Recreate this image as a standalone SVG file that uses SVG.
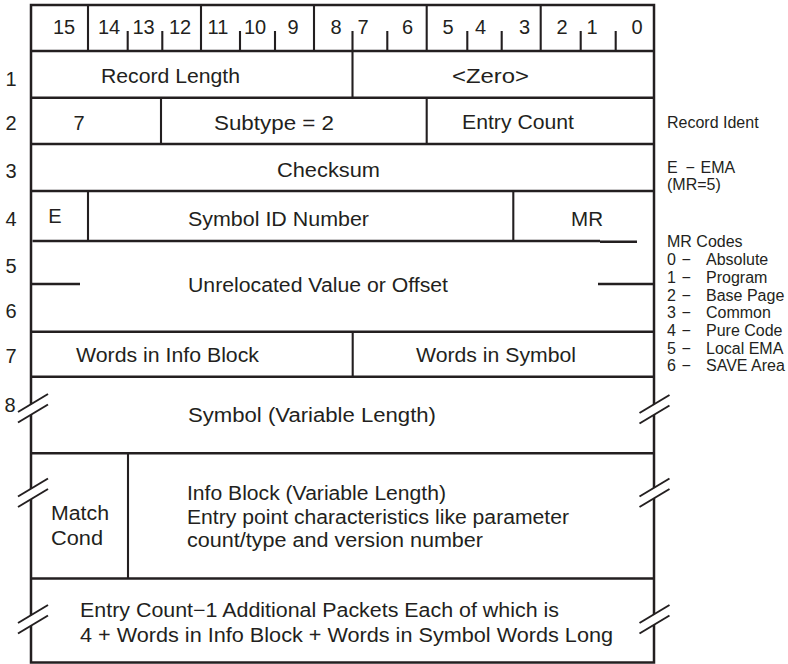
<svg xmlns="http://www.w3.org/2000/svg" xmlns:xlink="http://www.w3.org/1999/xlink" width="788" height="664" viewBox="0 0 788 664">
  <style>
    .ln { stroke: #231f20; stroke-width: 2.5; fill: none; stroke-linecap: butt; }
    .dv { stroke: #231f20; stroke-width: 2.1; fill: none; }
    .t { font-family: "Liberation Sans", Arial, Helvetica, sans-serif; font-size: 20px; fill: #231f20; }
    .c { text-anchor: middle; }
    .n { font-family: "Liberation Sans", Arial, Helvetica, sans-serif; font-size: 16px; fill: #231f20; }
  </style>
  <defs>
    <!-- break mark: two slashes with the frame erased between them -->
    <g id="brk">
      <polygon points="-15,4.5 15,-13.5 15,-3.5 -15,14.5" fill="#fff"/>
      <line x1="-15" y1="4" x2="15" y2="-14" stroke="#231f20" stroke-width="2"/>
      <line x1="-15" y1="14.5" x2="15" y2="-3.5" stroke="#231f20" stroke-width="2"/>
    </g>
  </defs>
  <rect width="788" height="664" fill="#fff"/>

  <!-- frame and row rules -->
  <g id="grid">
    <rect class="ln" x="31" y="5" width="623" height="657.5"/>
    <line class="ln" x1="31" y1="51" x2="654" y2="51"/>
    <line class="ln" x1="31" y1="97.7" x2="654" y2="97.7"/>
    <line class="ln" x1="31" y1="144" x2="654" y2="144"/>
    <line class="ln" x1="31" y1="191" x2="654" y2="191"/>
    <line class="ln" x1="32.5" y1="241" x2="600" y2="241"/>
    <line class="ln" x1="600" y1="241.8" x2="637" y2="241.8"/>
    <line class="ln" x1="31" y1="284" x2="80" y2="284"/>
    <line class="ln" x1="598" y1="284" x2="654" y2="284"/>
    <line class="ln" x1="31" y1="331.7" x2="654" y2="331.7"/>
    <line class="ln" x1="31" y1="376.7" x2="654" y2="376.7"/>
    <line class="ln" x1="31" y1="453.3" x2="654" y2="453.3"/>
    <line class="ln" x1="31" y1="578.5" x2="654" y2="578.5"/>

    <!-- header bit dividers and ticks -->
    <line class="dv" x1="88" y1="5" x2="88" y2="51"/>
    <line class="dv" x1="201" y1="5" x2="201" y2="51"/>
    <line class="dv" x1="314" y1="5" x2="314" y2="51"/>
    <line class="dv" x1="426.7" y1="5" x2="426.7" y2="51"/>
    <line class="dv" x1="540.7" y1="5" x2="540.7" y2="51"/>
    <line class="dv" x1="127.7" y1="31" x2="127.7" y2="51"/>
    <line class="dv" x1="162.3" y1="31" x2="162.3" y2="51"/>
    <line class="dv" x1="240" y1="31" x2="240" y2="51"/>
    <line class="dv" x1="275" y1="31" x2="275" y2="51"/>
    <line class="dv" x1="352.5" y1="31" x2="352.5" y2="97.7"/>
    <line class="dv" x1="387.3" y1="31" x2="387.3" y2="51"/>
    <line class="dv" x1="467.3" y1="31" x2="467.3" y2="51"/>
    <line class="dv" x1="501.7" y1="31" x2="501.7" y2="51"/>
    <line class="dv" x1="580.7" y1="31" x2="580.7" y2="51"/>
    <line class="dv" x1="615.7" y1="31" x2="615.7" y2="51"/>

    <!-- field dividers -->
    <line class="dv" x1="161" y1="97.7" x2="161" y2="144"/>
    <line class="dv" x1="426.7" y1="97.7" x2="426.7" y2="144"/>
    <line class="dv" x1="88" y1="191" x2="88" y2="241"/>
    <line class="dv" x1="513.3" y1="191" x2="513.3" y2="241"/>
    <line class="dv" x1="352.7" y1="331.7" x2="352.7" y2="376.7"/>
    <line class="dv" x1="128" y1="453.3" x2="128" y2="578.5"/>

    <!-- variable-length breaks -->
    <use xlink:href="#brk" href="#brk" x="33" y="408"/>
    <use xlink:href="#brk" href="#brk" x="654.5" y="409"/>
    <use xlink:href="#brk" href="#brk" x="33" y="492.5"/>
    <use xlink:href="#brk" href="#brk" x="654.5" y="492.5"/>
    <use xlink:href="#brk" href="#brk" x="33" y="619"/>
    <use xlink:href="#brk" href="#brk" x="654.5" y="619"/>
  </g>

  <!-- bit numbers -->
  <g id="bits" class="t c">
    <text x="64" y="34.3">15</text>
    <text x="109" y="34.3">14</text>
    <text x="143.5" y="34.3">13</text>
    <text x="180" y="34.3">12</text>
    <text x="218" y="34.3">11</text>
    <text x="255" y="34.3">10</text>
    <text x="293" y="34.3">9</text>
    <text x="336" y="34.3">8</text>
    <text x="363" y="34.3">7</text>
    <text x="407.5" y="34.3">6</text>
    <text x="448" y="34.3">5</text>
    <text x="480.5" y="34.3">4</text>
    <text x="524.5" y="34.3">3</text>
    <text x="562" y="34.3">2</text>
    <text x="592" y="34.3">1</text>
    <text x="637" y="34.3">0</text>
  </g>

  <!-- word numbers -->
  <g id="words" class="t c">
    <text x="11" y="86">1</text>
    <text x="11" y="130">2</text>
    <text x="11" y="178">3</text>
    <text x="11" y="226">4</text>
    <text x="11" y="273">5</text>
    <text x="11" y="318">6</text>
    <text x="11" y="363">7</text>
    <text x="10" y="412">8</text>
  </g>

  <g id="record-length"><text class="t" x="101" y="83.3" textLength="139" lengthAdjust="spacingAndGlyphs">Record Length</text></g>
  <g id="zero"><text class="t" x="452" y="83.3" textLength="77" lengthAdjust="spacingAndGlyphs">&lt;Zero&gt;</text></g>
  <g id="type"><text class="t c" x="79" y="129.5">7</text></g>
  <g id="subtype"><text class="t" x="214" y="129.5" textLength="120" lengthAdjust="spacingAndGlyphs">Subtype = 2</text></g>
  <g id="entry-count"><text class="t" x="462" y="129" textLength="112" lengthAdjust="spacingAndGlyphs">Entry Count</text></g>
  <g id="checksum"><text class="t" x="277" y="177" textLength="103" lengthAdjust="spacingAndGlyphs">Checksum</text></g>
  <g id="ema-flag"><text class="t c" x="55" y="223">E</text></g>
  <g id="symbol-id"><text class="t" x="188" y="226" textLength="181" lengthAdjust="spacingAndGlyphs">Symbol ID Number</text></g>
  <g id="mr"><text class="t" x="571" y="226" textLength="32" lengthAdjust="spacingAndGlyphs">MR</text></g>
  <g id="value"><text class="t" x="188" y="292" textLength="260" lengthAdjust="spacingAndGlyphs">Unrelocated Value or Offset</text></g>
  <g id="info-words"><text class="t" x="76" y="362" textLength="183" lengthAdjust="spacingAndGlyphs">Words in Info Block</text></g>
  <g id="symbol-words"><text class="t" x="416" y="362" textLength="160" lengthAdjust="spacingAndGlyphs">Words in Symbol</text></g>
  <g id="symbol"><text class="t" x="188" y="422" textLength="248" lengthAdjust="spacingAndGlyphs">Symbol (Variable Length)</text></g>
  <g id="match-cond">
    <text class="t" x="51" y="520" textLength="58" lengthAdjust="spacingAndGlyphs">Match</text>
    <text class="t" x="51" y="545" textLength="52" lengthAdjust="spacingAndGlyphs">Cond</text>
  </g>
  <g id="info-block">
    <text class="t" x="187" y="500" textLength="259" lengthAdjust="spacingAndGlyphs">Info Block (Variable Length)</text>
    <text class="t" x="187" y="523.5" textLength="382" lengthAdjust="spacingAndGlyphs">Entry point characteristics like parameter</text>
    <text class="t" x="187" y="547" textLength="296" lengthAdjust="spacingAndGlyphs">count/type and version number</text>
  </g>
  <g id="packets">
    <text class="t" x="80" y="616.7" textLength="479" lengthAdjust="spacingAndGlyphs">Entry Count−1 Additional Packets Each of which is</text>
    <text class="t" x="80" y="641.7" textLength="533" lengthAdjust="spacingAndGlyphs">4 + Words in Info Block + Words in Symbol Words Long</text>
  </g>

  <!-- side notes -->
  <g id="notes" class="n">
    <text x="667" y="128">Record Ident</text>
    <text y="173"><tspan x="667">E</tspan><tspan x="685.5">−</tspan><tspan x="700.5">EMA</tspan></text>
    <text x="667" y="190">(MR=5)</text>
    <text x="667" y="247">MR Codes</text>
    <text y="265"><tspan x="667">0</tspan><tspan x="681.5">−</tspan><tspan x="706">Absolute</tspan></text>
    <text y="282.7"><tspan x="667">1</tspan><tspan x="681.5">−</tspan><tspan x="706">Program</tspan></text>
    <text y="300.5"><tspan x="667">2</tspan><tspan x="681.5">−</tspan><tspan x="706">Base Page</tspan></text>
    <text y="318.3"><tspan x="667">3</tspan><tspan x="681.5">−</tspan><tspan x="706">Common</tspan></text>
    <text y="336"><tspan x="667">4</tspan><tspan x="681.5">−</tspan><tspan x="706">Pure Code</tspan></text>
    <text y="353.5"><tspan x="667">5</tspan><tspan x="681.5">−</tspan><tspan x="706">Local EMA</tspan></text>
    <text y="371"><tspan x="667">6</tspan><tspan x="681.5">−</tspan><tspan x="706">SAVE Area</tspan></text>
  </g>
</svg>
